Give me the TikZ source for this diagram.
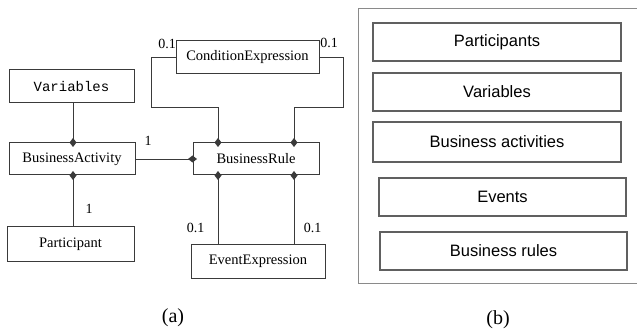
\documentclass[tikz,border=0pt]{standalone}
\usepackage{fontspec}
\setmainfont{Liberation Serif}
\newfontfamily\umlmono{Liberation Mono}
\newfontfamily\layersans{Liberation Sans}
\usetikzlibrary{arrows.meta}
\definecolor{edgegray}{HTML}{3A3A3A}
\definecolor{framegray}{HTML}{8A8A8A}
\definecolor{layergray}{HTML}{606060}
\begin{document}
\begin{tikzpicture}[x=1pt,y=-1pt,
  cls/.style={draw=edgegray,line width=1pt,rectangle,inner sep=0pt,
    font=\fontsize{14.5}{16}\selectfont},
  assoc/.style={draw=edgegray,line width=0.9pt,
    -{Diamond[length=9pt,width=7pt,line width=0pt]},shorten >=-4.5pt},
  mult/.style={font=\fontsize{14}{16}\selectfont,inner sep=0pt},
  layer/.style={draw=layergray,line width=1.1pt,rectangle,inner sep=0pt,
    font=\layersans\fontsize{16.5}{19}\selectfont},
  caption/.style={font=\fontsize{20}{22}\selectfont,inner sep=0pt}]
\useasboundingbox (0,0) rectangle (637,331);

% ---- (a) class diagram ----
\node[cls,minimum width=125pt,minimum height=33pt,font=\umlmono\fontsize{14}{16}\selectfont]
  (var) at (71.5,86.5) {Variables};
\node[cls,minimum width=126pt,minimum height=32pt] (act) at (72,159) {BusinessActivity};
\node[cls,minimum width=127pt,minimum height=34pt] (par) at (70.5,244) {Participant};
\node[cls,minimum width=143pt,minimum height=33pt] (cond) at (247.5,57.5) {ConditionExpression};
\node[cls,minimum width=126pt,minimum height=32pt] (rule) at (256,159) {BusinessRule};
\node[cls,minimum width=134pt,minimum height=34pt] (evt) at (258,261) {EventExpression};

\coordinate (xa) at (73,0);
\coordinate (xl) at (218,0);
\coordinate (xr) at (294,0);
\coordinate (cl) at (151,107);
\coordinate (cr) at (343,107);

\draw[assoc] (var.south -| xa) -- (act.north -| xa);
\draw[assoc] (par.north -| xa) -- (act.south -| xa);
\draw[assoc] (act.east) -- (rule.west);
\draw[assoc] (cond.west) -| (cl) -| (rule.north -| xl);
\draw[assoc] (cond.east) -| (cr) -| (rule.north -| xr);
\draw[assoc] (evt.north -| xl) -- (rule.south -| xl);
\draw[assoc] (evt.north -| xr) -- (rule.south -| xr);

\node[mult] (m1) at (148,141) {1};
\node[mult] (m2) at (89,209) {1};
\node[mult] (m3) at (167,44) {0.1};
\node[mult] (m4) at (329,43) {0.1};
\node[mult] (m5) at (195.5,227.5) {0.1};
\node[mult] (m6) at (312.5,227.5) {0.1};

\node[caption] (capa) at (173,318) {(a)};

% ---- (b) layered view ----
\draw[framegray,line width=1pt] (637.5,9) -- (358,9) -- (358,283) -- (637.5,283);
\node[layer,minimum width=248pt,minimum height=38pt] (lp) at (497,42) {Participants};
\node[layer,minimum width=248pt,minimum height=38pt] (lv) at (497,92) {Variables};
\node[layer,minimum width=248pt,minimum height=40pt] (la) at (497,142) {Business activities};
\node[layer,minimum width=247pt,minimum height=38pt] (le) at (502.5,197) {Events};
\node[layer,minimum width=247pt,minimum height=38pt] (lr) at (503.5,251) {Business rules};

\node[caption] (capb) at (498,320) {(b)};
\end{tikzpicture}
\end{document}
